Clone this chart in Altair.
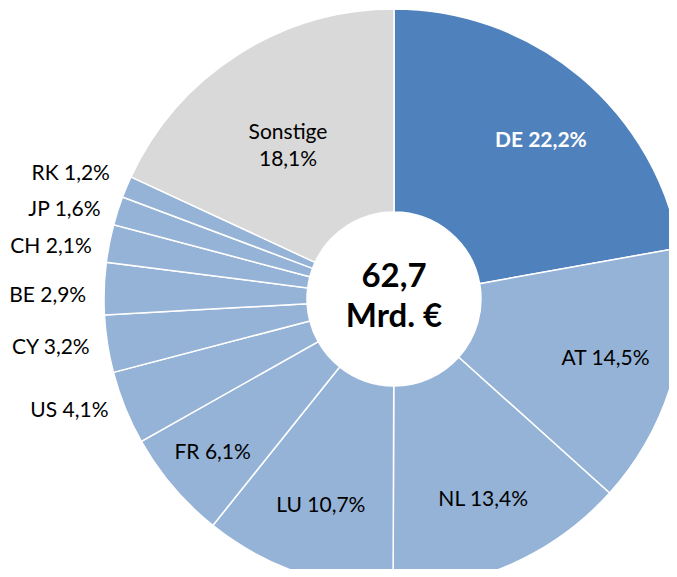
import altair as alt
import pandas as pd

# --- data -------------------------------------------------------------
countries = ["DE", "AT", "NL", "LU", "FR", "US", "CY", "BE", "CH", "JP", "RK", "Sonstige"]
shares = [22.2, 14.5, 13.4, 10.7, 6.1, 4.1, 3.2, 2.9, 2.1, 1.6, 1.2, 18.1]
groups = ["Inland", "Ausland", "Ausland", "Ausland", "Ausland", "Ausland",
          "Ausland", "Ausland", "Ausland", "Ausland", "Ausland", "Sonstige"]
center_text = "62,7\nMrd. €"

group_domain = ["Inland", "Ausland", "Sonstige"]
group_colors = ["#4F81BD", "#95B3D7", "#D9D9D9"]

inner_labels = ["AT", "NL", "LU"]

# --- table ------------------------------------------------------------
df = pd.DataFrame({
    "land": countries,
    "anteil": shares,
    "gruppe": groups,
    "ord": list(range(len(countries))),
})
pct = [f"{v:.1f}".replace(".", ",") + "%" for v in shares]
df["label"] = [
    (f"{c}\n{p}" if c == "Sonstige" else f"{c} {p}") for c, p in zip(countries, pct)
]

CX, CY = 386, 291
FONT = "Lato"
FS = 21

base = alt.Chart(df).encode(
    theta=alt.Theta("anteil:Q", stack=True),
    order=alt.Order("ord:Q"),
    x=alt.value(CX),
    y=alt.value(CY),
)

arcs = base.mark_arc(radius=290, radius2=87, stroke="white", strokeWidth=1.5).encode(
    color=alt.Color("gruppe:N", scale=alt.Scale(domain=group_domain, range=group_colors), legend=None)
)


def label_layer(sel, **mark_kw):
    expr = "indexof(" + str(sel) + ", datum.land) >= 0 ? datum.label : ''"
    return base.transform_calculate(t=expr).mark_text(
        font=FONT, fontSize=FS, baseline="middle", **mark_kw
    ).encode(text="t:N")


lbl_de = label_layer(["DE"], radius=218, color="white", fontWeight="bold", dx=7, dy=9)
lbl_in = label_layer(inner_labels, radius=220, color="black")
lbl_fr = label_layer(["FR"], radius=238, color="black")
lbl_so = label_layer(["Sonstige"], radius=197, color="black", lineBreak="\n", lineHeight=27)

# outside labels (small slices), nudged vertically like the original's label spreading
outer_nudge = {"US": -4, "CY": 1, "BE": 8, "CH": 7, "JP": 5, "RK": -6}
lbl_out = [
    label_layer([k], radius=308, color="black", align="right", dy=v)
    for k, v in outer_nudge.items()
]

center = alt.Chart(pd.DataFrame({"t": [center_text]})).mark_text(
    font=FONT, fontSize=33, fontWeight="bold", color="black",
    lineBreak="\n", lineHeight=40, baseline="middle", align="center",
).encode(text="t:N", x=alt.value(CX), y=alt.value(CY - 22))

chart = alt.layer(arcs, lbl_de, lbl_in, lbl_fr, lbl_so, *lbl_out, center).properties(
    width=661, height=561, padding=0, autosize=alt.AutoSizeParams(type="none"),
    background="white",
).configure_view(stroke=None)

chart.save("out.html", embed_options={"renderer": "svg", "actions": False})
